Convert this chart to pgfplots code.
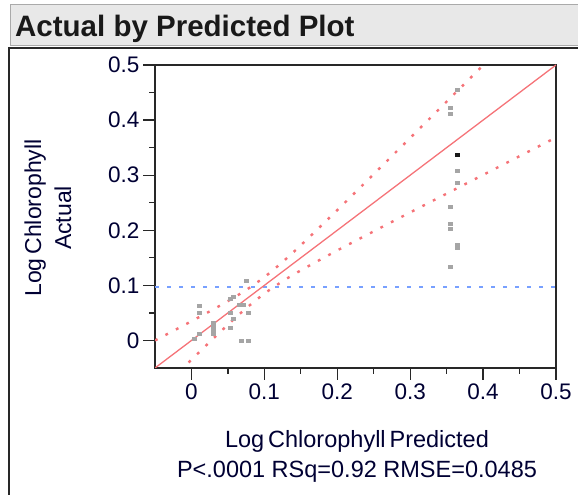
\documentclass[border=0pt]{standalone}
\usepackage{fontspec}
\setmainfont{Liberation Sans}
\usepackage{pgfplots}
\pgfplotsset{compat=1.18}
\definecolor{fitred}{RGB}{245,115,120}
\definecolor{meanblue}{RGB}{120,160,255}
\definecolor{ptgray}{RGB}{165,165,165}
\definecolor{barbg}{RGB}{232,232,232}
\definecolor{barline}{RGB}{170,170,170}
\definecolor{frame}{RGB}{40,40,40}
\begin{document}
\begin{tikzpicture}
\useasboundingbox (0pt,0pt) rectangle (578pt,495pt);
% title bar
\fill[barbg] (10pt,449pt) rectangle (580pt,490pt);
\draw[barline,line width=1pt] (10pt,449pt) -- (10pt,490pt) -- (580pt,490pt);
\draw[barline,line width=1pt] (10pt,449pt) -- (580pt,449pt);
\node[anchor=base west,inner sep=0pt,font=\fontsize{29.5}{34}\selectfont\bfseries,text=black!90] at (15pt,458pt) {Actual by Predicted Plot};
% panel frame
\draw[frame,line width=1.8pt] (9pt,0pt) -- (9pt,447pt) -- (580pt,447pt);
\begin{axis}[
  at={(155pt,127pt)}, anchor=south west,
  scale only axis, width=401pt, height=303pt,
  xmin=-0.05, xmax=0.5, ymin=-0.05, ymax=0.5,
  xtick={0,0.1,0.2,0.3,0.4,0.5}, ytick={0,0.1,0.2,0.3,0.4,0.5},
  minor tick num=1,
  tick align=outside,
  major tick length=12pt, minor tick length=6pt,
  xtick pos=bottom, ytick pos=left,
  axis line style={frame,line width=1.8pt},
  every tick/.style={frame,line width=1.2pt},
  every minor tick/.style={frame,line width=1.2pt},
  tick label style={font=\fontsize{22.5}{26}\selectfont,text=black!80!blue},
  /pgf/number format/assume math mode=true,
  /pgf/number format/fixed,
  clip=true,
]
% mean line
\addplot[meanblue, line width=2.6pt, dash pattern=on 4pt off 8pt] coordinates {(-0.05,0.097) (0.5,0.097)};
% fit line
\addplot[fitred, line width=1.3pt] coordinates {(-0.05,-0.05) (0.5,0.5)};
% confidence curves
\addplot[fitred, line width=2.4pt, dash pattern=on 2.8pt off 9pt, smooth] coordinates {
(-0.05,0.000) (-0.025,0.0173) (0,0.0349) (0.025,0.0528) (0.05,0.0714) (0.075,0.0916) (0.1,0.115) (0.125,0.1425) (0.15,0.1728) (0.2,0.2366) (0.25,0.3019) (0.3,0.3676) (0.35,0.4335) (0.4,0.4995) (0.45,0.5655) (0.5,0.6316)};
\addplot[fitred, line width=2.4pt, dash pattern=on 2.8pt off 9pt, smooth] coordinates {
(-0.05,-0.100) (-0.025,-0.0673) (0,-0.0349) (0.025,-0.0028) (0.05,0.0286) (0.075,0.0584) (0.1,0.085) (0.125,0.1075) (0.15,0.1272) (0.2,0.1634) (0.25,0.1981) (0.3,0.2324) (0.35,0.2665) (0.4,0.3005) (0.45,0.3345) (0.5,0.3684)};
% data points
\addplot[only marks, color=ptgray, mark=square*, mark size=2pt, mark options={solid,fill=ptgray,draw=ptgray,yscale=0.75}] coordinates {
(0.004,0.003) (0.010,0.012) (0.010,0.050) (0.010,0.063)
(0.030,0.012) (0.030,0.018) (0.030,0.025) (0.030,0.033)
(0.053,0.024) (0.053,0.051) (0.053,0.076) (0.057,0.079) (0.057,0.039)
(0.066,0.065) (0.071,0.064) (0.078,0.051) (0.075,0.109)
(0.068,0.000) (0.078,0.000)
(0.364,0.455) (0.355,0.422) (0.355,0.411) (0.364,0.309) (0.364,0.287)
(0.355,0.242) (0.355,0.212) (0.355,0.203) (0.364,0.168) (0.364,0.174) (0.355,0.133)};
\addplot[only marks, color=black!90, mark=square*, mark size=2pt, mark options={solid,fill=black!90,draw=black!90,yscale=0.75}] coordinates {(0.364,0.338)};
\end{axis}
% axis labels
\node[rotate=90,align=center,inner sep=0pt,font=\fontsize{23}{30}\selectfont,text=black!80!blue] at (48pt,277pt) {Log\,Chlorophyll\\Actual};
\node[anchor=base,inner sep=0pt,font=\fontsize{23.5}{30}\selectfont,text=black!80!blue] at (357pt,47pt) {Log\,Chlorophyll\,Predicted};
\node[anchor=base,inner sep=0pt,font=\fontsize{23.5}{30}\selectfont,text=black!80!blue] at (357pt,17pt) {P<.0001 RSq=0.92 RMSE=0.0485};
\end{tikzpicture}
\end{document}
